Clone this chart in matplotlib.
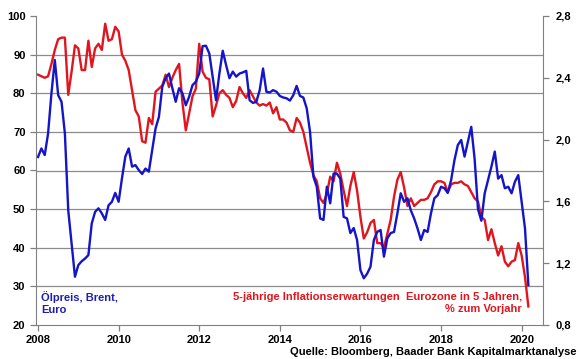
import matplotlib
matplotlib.use("Agg")
import matplotlib.pyplot as plt
import numpy as np

plt.rcParams['font.family'] = ['Liberation Sans', 'DejaVu Sans']
plt.rcParams['font.weight'] = 'bold'

# Brent oil price in Euro, monthly from Jan 2008 (left axis)
oil = [
    63.5, 65.7, 64.0, 69.6, 80.0, 88.6, 79.5, 77.8, 69.6, 49.7, 41.1, 32.5,  # 2008
    35.5, 36.5, 37.2, 38.1, 46.3, 49.3, 50.2, 48.9, 47.2, 51.0, 51.9, 54.2,  # 2009
    51.9, 58.0, 63.6, 65.7, 61.0, 61.4, 60.1, 59.1, 60.5, 59.7, 65.3, 70.9,  # 2010
    73.9, 81.7, 83.9, 85.1, 81.3, 77.8, 81.3, 80.0, 76.9, 79.1, 82.1, 83.0,  # 2011
    85.1, 92.2, 92.3, 90.3, 84.3, 78.2, 85.1, 91.0, 87.3, 83.9, 85.6, 84.3,  # 2012
    85.1, 85.4, 85.8, 78.2, 77.5, 77.8, 80.8, 86.4, 80.4, 80.2, 80.8, 80.4,  # 2013
    79.3, 78.9, 78.7, 78.1, 79.5, 81.9, 79.3, 78.9, 76.1, 70.0, 58.4, 55.8,  # 2014
    47.6, 47.2, 55.8, 51.5, 59.2, 59.2, 57.9, 48.0, 47.6, 43.8, 45.1, 42.0,  # 2015
    34.2, 32.1, 33.3, 35.1, 42.0, 44.1, 44.6, 37.7, 42.4, 43.8, 44.1, 48.9,  # 2016
    54.1, 51.9, 52.8, 49.7, 47.6, 45.0, 42.0, 44.6, 44.1, 48.9, 52.8, 53.6,  # 2017
    55.8, 55.4, 54.2, 57.5, 62.7, 66.6, 67.9, 63.6, 67.5, 71.3, 63.0, 50.0,  # 2018
    47.0, 54.1, 57.5, 61.0, 64.9, 57.9, 58.8, 55.4, 55.8, 54.1, 57.1, 58.8,  # 2019
    52.0, 45.0, 30.3,                                                        # 2020
]

# 5y inflation expectations Eurozone in 5 years, % (right axis)
infl = [
    2.42, 2.41, 2.40, 2.41, 2.49, 2.58, 2.65, 2.66, 2.66, 2.29, 2.44, 2.61,  # 2008
    2.59, 2.45, 2.45, 2.64, 2.47, 2.59, 2.62, 2.58, 2.75, 2.64, 2.65, 2.73,  # 2009
    2.70, 2.55, 2.51, 2.45, 2.32, 2.19, 2.15, 1.99, 1.98, 2.14, 2.10, 2.31,  # 2010
    2.33, 2.35, 2.42, 2.34, 2.40, 2.45, 2.49, 2.24, 2.06, 2.17, 2.28, 2.33,  # 2011
    2.62, 2.44, 2.40, 2.39, 2.15, 2.22, 2.30, 2.32, 2.29, 2.27, 2.21, 2.25,  # 2012
    2.34, 2.30, 2.27, 2.32, 2.28, 2.24, 2.22, 2.23, 2.22, 2.24, 2.17, 2.21,  # 2013
    2.13, 2.13, 2.11, 2.06, 2.05, 2.14, 2.11, 2.05, 1.95, 1.85, 1.77, 1.73,  # 2014
    1.62, 1.59, 1.65, 1.76, 1.73, 1.85, 1.78, 1.67, 1.57, 1.70, 1.79, 1.67,  # 2015
    1.50, 1.36, 1.40, 1.46, 1.48, 1.33, 1.33, 1.30, 1.39, 1.48, 1.63, 1.74,  # 2016
    1.79, 1.69, 1.57, 1.62, 1.57, 1.59, 1.61, 1.61, 1.62, 1.66, 1.71, 1.73,  # 2017
    1.73, 1.72, 1.66, 1.71, 1.72, 1.72, 1.73, 1.71, 1.70, 1.66, 1.62, 1.60,  # 2018
    1.50, 1.48, 1.35, 1.42, 1.33, 1.25, 1.31, 1.21, 1.18, 1.21, 1.22, 1.33,  # 2019
    1.25, 1.11, 0.92,                                                        # 2020
]

t = 2008 + np.arange(len(oil)) / 12.0
year_ticks = [2008, 2010, 2012, 2014, 2016, 2018, 2020]
left_ticks = [20, 30, 40, 50, 60, 70, 80, 90, 100]
right_ticks = [0.8, 1.2, 1.6, 2.0, 2.4, 2.8]
left_lim = (20, 100)
right_lim = (0.8, 2.8)

blue = '#1414C8'
red = '#E0161E'
spine_col = '#808080'

W, H = 580, 359
fig = plt.figure(figsize=(W / 100, H / 100), dpi=100)
ax = fig.add_axes([36 / W, 34 / H, 507 / W, 309 / H])
ax2 = ax.twinx()
# oil line on top of the inflation line, grid at the very back
ax.set_zorder(ax2.get_zorder() + 1)
ax.patch.set_visible(False)

ax.plot(t, oil, color=blue, lw=1.7)
ax.set_xlim(2007.95, 2020.53)
ax.set_ylim(*left_lim)
ax.set_yticks(left_ticks)
ax.set_xticks(year_ticks)
for s in ['top', 'right']:
    ax.spines[s].set_visible(False)
for s in ['left', 'bottom']:
    ax.spines[s].set_color(spine_col)
ax.tick_params(axis='both', colors=spine_col, labelcolor='black', labelsize=8,
               length=4, width=0.9, direction='out')

ax2.plot(t, infl, color=red, lw=1.7)
ax2.set_ylim(*right_lim)
ax2.set_yticks(right_ticks)
ax2.set_yticklabels([f'{v:.1f}'.replace('.', ',') for v in right_ticks])
# horizontal grid at the left-axis ticks, drawn from the back axes
scale = (right_lim[1] - right_lim[0]) / (left_lim[1] - left_lim[0])
ax2.set_yticks([right_lim[0] + (v - left_lim[0]) * scale for v in left_ticks], minor=True)
ax2.yaxis.grid(True, which='minor', color='#8c8c8c', lw=0.9)
ax2.tick_params(axis='y', which='minor', length=0)
ax2.set_axisbelow(True)
for s in ['top', 'left', 'bottom']:
    ax2.spines[s].set_visible(False)
ax2.spines['right'].set_color(spine_col)
ax2.tick_params(axis='y', which='major', colors=spine_col, labelcolor='black',
                labelsize=8, length=4, width=0.9, pad=5)

fig.text(41 / W, 1 - 303 / H, 'Ölpreis, Brent,\nEuro', color='#1E1EB4',
         fontsize=8, ha='left', va='center', linespacing=1.15)
fig.text(522 / W, 1 - 303 / H,
         '5-jährige Inflationserwartungen  Eurozone in 5 Jahren,\n% zum Vorjahr',
         color='#E0161E', fontsize=8, ha='right', va='center', multialignment='right',
         linespacing=1.15)
fig.text(577 / W, 1 - 352 / H, 'Quelle: Bloomberg, Baader Bank Kapitalmarktanalyse',
         color='black', fontsize=8, ha='right', va='center')

fig.savefig('out.png', dpi=100)
